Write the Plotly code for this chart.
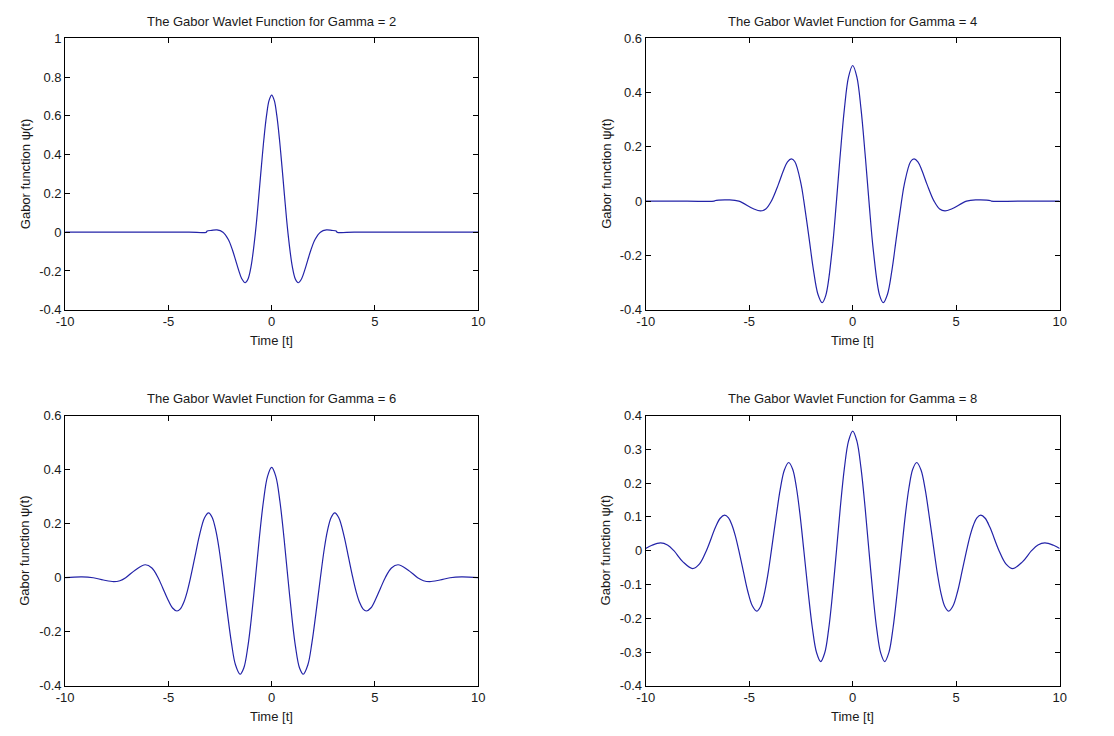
import plotly.graph_objects as go

# ---- Data (positive half of each symmetric curve) ----
# Gamma = 2
t_g2 = [0, 0.125, 0.25, 0.375, 0.5, 0.62, 0.785, 1.0, 1.15, 1.285, 1.45, 1.6, 1.75, 1.9, 2.1, 2.36,
        2.65, 2.9, 3.14, 3.16, 4, 6, 8, 10]
y_g2 = [0.707, 0.680, 0.601, 0.482, 0.337, 0.190, 0, -0.178, -0.243, -0.261, -0.240, -0.196, -0.143, -0.092,
        -0.038, 0, 0.0117, 0.0094, 0.0051, 0, 0, 0, 0, 0]
# Gamma = 4
t_g4 = [0, 0.2, 0.4, 0.6, 0.785, 1.0, 1.3, 1.479, 1.68, 1.9, 2.1, 2.36, 2.5, 2.8, 2.965, 3.15, 3.35, 3.6,
        3.93, 4.2, 4.458, 4.8, 5.5, 5.963, 6.67, 6.7, 8, 10]
y_g4 = [0.5, 0.458, 0.341, 0.173, 0, -0.184, -0.347, -0.374, -0.343, -0.252, -0.141, 0, 0.065, 0.146, 0.156,
        0.145, 0.112, 0.060, 0, -0.029, -0.036, -0.028, 0, 0.0047, 0.0014, 0, 0, 0]
# Gamma = 6
t_g6 = [0, 0.2, 0.4, 0.6, 0.785, 1.0, 1.15, 1.35, 1.529, 1.75, 1.95, 2.15, 2.36, 2.55, 2.7, 2.88, 3.056,
        3.25, 3.5, 3.72, 3.93, 4.1, 4.25, 4.42, 4.587, 4.8, 5.05, 5.28, 5.5, 5.8, 6.12, 6.6, 7.07, 7.35,
        7.653, 8.15, 8.64, 9.19, 10]
y_g6 = [0.408, 0.375, 0.282, 0.145, 0, -0.161, -0.253, -0.334, -0.357, -0.323, -0.240, -0.127, 0, 0.108,
        0.173, 0.223, 0.240, 0.222, 0.156, 0.076, 0, -0.054, -0.090, -0.115, -0.123, -0.112, -0.077, -0.037,
        0, 0.036, 0.048, 0.029, 0, -0.011, -0.0145, -0.0084, 0, 0.0033, 0.0006]
# Gamma = 8
t_g8 = [0, 0.2, 0.4, 0.6, 0.785, 1.0, 1.17, 1.35, 1.547, 1.75, 1.95, 2.15, 2.36, 2.55, 2.72, 2.9, 3.093,
        3.3, 3.5, 3.72, 3.93, 4.1, 4.28, 4.45, 4.64, 4.85, 5.07, 5.28, 5.5, 5.67, 5.84, 6.0, 6.188, 6.4,
        6.63, 7.07, 7.4, 7.735, 8.2, 8.64, 8.95, 9.284, 9.7, 10]
y_g8 = [0.354, 0.325, 0.245, 0.127, 0, -0.143, -0.236, -0.302, -0.328, -0.301, -0.228, -0.123, 0, 0.109,
        0.187, 0.241, 0.261, 0.239, 0.182, 0.092, 0, -0.071, -0.130, -0.165, -0.179, -0.163, -0.120, -0.062,
        0, 0.044, 0.077, 0.097, 0.105, 0.096, 0.069, 0, -0.039, -0.053, -0.033, 0, 0.017, 0.023, 0.016, 0.0063]

gammas = [2, 4, 6, 8]
halves = [(t_g2, y_g2), (t_g4, y_g4), (t_g6, y_g6), (t_g8, y_g8)]

# ---- Tick labels ----
x_tickvals = [-10, -5, 0, 5, 10]
x_ticktext = ["-10", "-5", "0", "5", "10"]
y_tickvals_g2 = [-0.4, -0.2, 0, 0.2, 0.4, 0.6, 0.8, 1]
y_ticktext_g2 = ["-0.4", "-0.2", "0", "0.2", "0.4", "0.6", "0.8", "1"]
y_tickvals_g46 = [-0.4, -0.2, 0, 0.2, 0.4, 0.6]
y_ticktext_g46 = ["-0.4", "-0.2", "0", "0.2", "0.4", "0.6"]
y_tickvals_g8 = [-0.4, -0.3, -0.2, -0.1, 0, 0.1, 0.2, 0.3, 0.4]
y_ticktext_g8 = ["-0.4", "-0.3", "-0.2", "-0.1", "0", "0.1", "0.2", "0.3", "0.4"]
y_ticks = [(y_tickvals_g2, y_ticktext_g2), (y_tickvals_g46, y_ticktext_g46),
           (y_tickvals_g46, y_ticktext_g46), (y_tickvals_g8, y_ticktext_g8)]
y_ranges = [[-0.4, 1], [-0.4, 0.6], [-0.4, 0.6], [-0.4, 0.4]]

W, H = 1114, 736
x_domains = [[57 / W, 476 / W], [646 / W, 1066 / W], [57 / W, 476 / W], [646 / W, 1066 / W]]
y_domains = [[1 - 309 / H, 1 - 32 / H], [1 - 309 / H, 1 - 32 / H],
             [1 - 693 / H, 1 - 417 / H], [1 - 693 / H, 1 - 417 / H]]

FONT = "Liberation Sans, Arial, sans-serif"
FS = 13
TXT = "#1a1a1a"
LINE = "#2323a8"
fig = go.Figure()
layout = dict(
    width=W, height=H, margin=dict(l=0, r=0, t=0, b=0),
    paper_bgcolor="white", plot_bgcolor="white", showlegend=False,
    font=dict(family=FONT, size=FS, color=TXT),
)
annotations = []
for i, (g, (th, yh)) in enumerate(zip(gammas, halves)):
    n = "" if i == 0 else str(i + 1)
    # mirror the positive half to build the full symmetric curve
    tx = [-v for v in th[::-1]] + th[1:]
    ty = yh[::-1] + yh[1:]
    fig.add_trace(go.Scatter(x=tx, y=ty, mode="lines",
                             line=dict(color=LINE, width=1.2, shape="spline", smoothing=1.0),
                             xaxis="x" + n, yaxis="y" + n, hoverinfo="skip"))
    layout["xaxis" + n] = dict(
        domain=x_domains[i], anchor="y" + n, range=[-10, 10],
        tickvals=x_tickvals, ticktext=x_ticktext,
        ticks="inside", ticklen=5, tickcolor="black", mirror="ticks", showline=True,
        linecolor="black", linewidth=1, showgrid=False, zeroline=False,
        tickfont=dict(size=FS),
    )
    layout["yaxis" + n] = dict(
        domain=y_domains[i], anchor="x" + n, range=y_ranges[i],
        tickvals=y_ticks[i][0], ticktext=y_ticks[i][1],
        ticks="inside", ticklen=5, tickcolor="black", mirror="ticks", showline=True,
        linecolor="black", linewidth=1, showgrid=False, zeroline=False,
        tickfont=dict(size=FS),
    )
    x0, x1 = x_domains[i]
    y0, y1 = y_domains[i]
    xc = (x0 + x1) / 2
    yc = (y0 + y1) / 2
    annotations.append(dict(text=f"The Gabor Wavlet Function for Gamma = {g}",
                            x=xc, y=y1, xref="paper", yref="paper",
                            xanchor="center", yanchor="middle", yshift=17, showarrow=False,
                            font=dict(size=FS)))
    annotations.append(dict(text="Time [t]", x=xc, y=y0, xref="paper", yref="paper",
                            xanchor="center", yanchor="middle", yshift=-31, showarrow=False,
                            font=dict(size=FS)))
    annotations.append(dict(text="Gabor function \u03c8(t)", x=x0, y=yc, xref="paper", yref="paper",
                            xanchor="center", yanchor="middle", xshift=-40, textangle=-90,
                            showarrow=False, font=dict(size=FS)))
layout["annotations"] = annotations
fig.update_layout(**layout)
fig.write_html("out.html")
